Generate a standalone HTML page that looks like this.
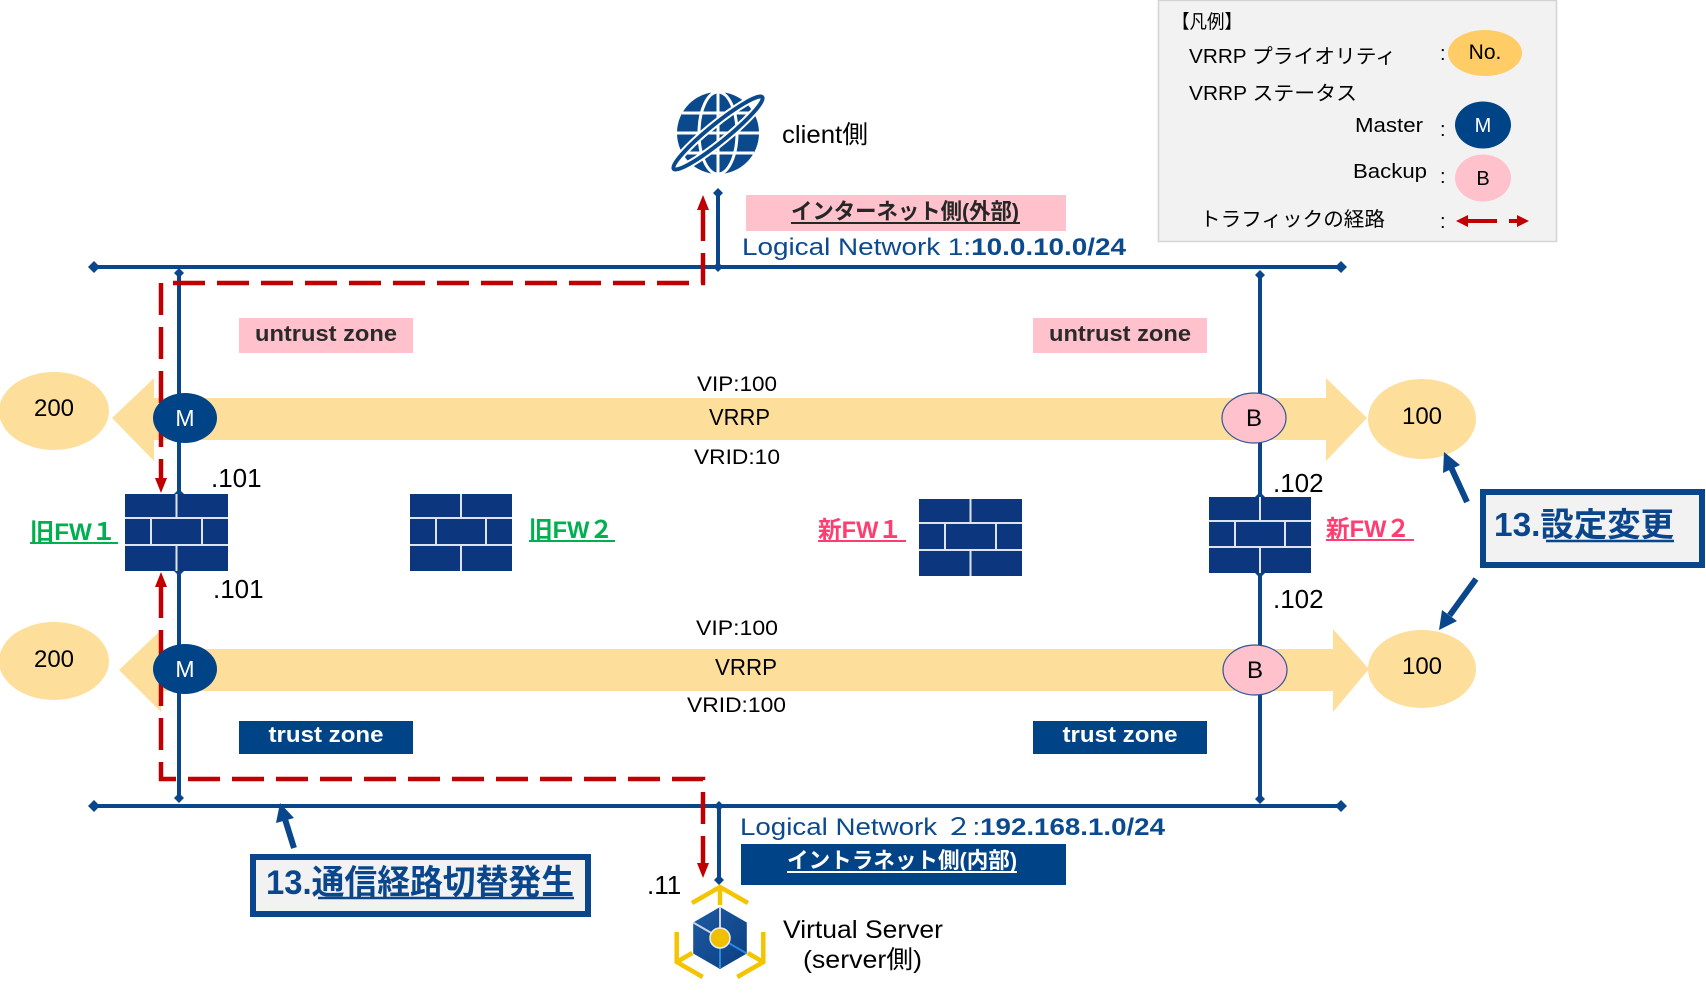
<!DOCTYPE html>
<html><head><meta charset="utf-8"><style>
html,body{margin:0;padding:0;background:#fff;}
svg{display:block;}
text{font-family:"Liberation Sans","Noto Sans CJK JP",sans-serif;}
</style></head><body>
<svg width="1706" height="994" viewBox="0 0 1706 994" xmlns="http://www.w3.org/2000/svg">
<rect x="0" y="0" width="1706" height="994" fill="#fff"/>

<!-- Legend -->
<rect x="1158.5" y="0.5" width="398" height="241" fill="#f2f2f2" stroke="#d4d4d4" stroke-width="1.5"/>
<text x="1172" y="28" font-size="19" textLength="70" lengthAdjust="spacingAndGlyphs">【凡例】</text>
<text x="1189" y="63" font-size="20" textLength="207" lengthAdjust="spacingAndGlyphs">VRRP プライオリティ</text>
<text x="1440" y="60" font-size="20">:</text>
<ellipse cx="1485" cy="53" rx="37" ry="23" fill="#ffcc66"/>
<text x="1485" y="59" font-size="21" text-anchor="middle">No.</text>
<text x="1189" y="100" font-size="20" textLength="168" lengthAdjust="spacingAndGlyphs">VRRP ステータス</text>
<text x="1355" y="132" font-size="20" textLength="68" lengthAdjust="spacingAndGlyphs">Master</text>
<text x="1440" y="136" font-size="20">:</text>
<ellipse cx="1483" cy="125" rx="28" ry="23.5" fill="#004386"/>
<text x="1483" y="132" font-size="20" text-anchor="middle" fill="#fff">M</text>
<text x="1353" y="178" font-size="20" textLength="74" lengthAdjust="spacingAndGlyphs">Backup</text>
<text x="1440" y="183" font-size="20">:</text>
<ellipse cx="1483" cy="178" rx="28" ry="23.5" fill="#ffc1cc"/>
<text x="1483" y="185" font-size="20" text-anchor="middle">B</text>
<text x="1200" y="226" font-size="20" textLength="185" lengthAdjust="spacingAndGlyphs">トラフィックの経路</text>
<text x="1440" y="228" font-size="20">:</text>
<line x1="1466" y1="221" x2="1497" y2="221" stroke="#c00000" stroke-width="4"/>
<polygon points="1456,221,1468,215,1468,227" fill="#c00000"/>
<line x1="1509" y1="221" x2="1518" y2="221" stroke="#c00000" stroke-width="4"/>
<polygon points="1529,221,1517,215,1517,227" fill="#c00000"/>

<!-- VRRP bands -->
<polygon points="112,418 154,378 154,398 1326,398 1326,378 1367,418 1326,461 1326,440 154,440 154,461" fill="#fddf9b"/>
<polygon points="119,670 161,630 161,649 1333,649 1333,629 1369,669 1333,712 1333,691 161,691 161,712" fill="#fddf9b"/>

<!-- priority ellipses -->
<ellipse cx="54" cy="411" rx="55" ry="39" fill="#fddf9b"/>
<ellipse cx="54" cy="661" rx="55" ry="39" fill="#fddf9b"/>
<ellipse cx="1422" cy="419" rx="54" ry="40" fill="#fddf9b"/>
<ellipse cx="1422" cy="669" rx="54" ry="39" fill="#fddf9b"/>
<text x="54" y="416" font-size="24" text-anchor="middle">200</text>
<text x="54" y="667" font-size="24" text-anchor="middle">200</text>
<text x="1422" y="424" font-size="24" text-anchor="middle">100</text>
<text x="1422" y="674" font-size="24" text-anchor="middle">100</text>

<!-- blue network lines -->
<g stroke="#0a468c" stroke-width="4" fill="none">
<line x1="94" y1="267" x2="1341" y2="267"/>
<line x1="94" y1="806" x2="1341" y2="806"/>
<line x1="179" y1="273" x2="179" y2="494"/>
<line x1="179" y1="571" x2="179" y2="798"/>
<line x1="1260" y1="275" x2="1260" y2="497"/>
<line x1="1260" y1="573" x2="1260" y2="799"/>
<line x1="718" y1="193" x2="718" y2="267"/>
<line x1="719" y1="806" x2="719" y2="880"/>
</g>
<g fill="#0a468c">
<polygon points="94,261 100,267 94,273 88,267"/>
<polygon points="1341,261 1347,267 1341,273 1335,267"/>
<polygon points="179,268 184,273 179,278 174,273"/>
<polygon points="1260,270 1265,275 1260,280 1255,275"/>
<polygon points="718,188 723,193 718,198 713,193"/>
<polygon points="718,262 723,267 718,272 713,267"/>
<polygon points="179,489 184,494 179,499 174,494"/>
<polygon points="179,566 184,571 179,576 174,571"/>
<polygon points="1260,492 1265,497 1260,502 1255,497"/>
<polygon points="1260,568 1265,573 1260,578 1255,573"/>
<polygon points="179,793 184,798 179,803 174,798"/>
<polygon points="1260,794 1265,799 1260,804 1255,799"/>
<polygon points="94,800 100,806 94,812 88,806"/>
<polygon points="1341,800 1347,806 1341,812 1335,806"/>
<polygon points="719,801 724,806 719,811 714,806"/>
<polygon points="719,875 724,880 719,885 714,880"/>
</g>

<!-- red traffic paths -->
<g stroke="#c00000" stroke-width="4.5" fill="none" stroke-dasharray="32 12">
<path d="M703,209 L703,283 L161,283 L161,478"/>
<path d="M161,586 L161,779 L703,779 L703,863"/>
</g>
<g fill="#c00000">
<polygon points="703,195 697,210 709,210"/>
<polygon points="161,493 155,478 167,478"/>
<polygon points="161,572 155,587 167,587"/>
<polygon points="703,878 697,863 709,863"/>
</g>

<!-- firewalls -->
<g>
<rect x="125" y="494" width="103" height="77" fill="#0c367e"/>
<g stroke="#dde4ee" stroke-width="2">
<line x1="125" y1="518" x2="228" y2="518"/><line x1="125" y1="545" x2="228" y2="545"/>
<line x1="176.5" y1="494" x2="176.5" y2="518"/><line x1="151" y1="518" x2="151" y2="545"/><line x1="202" y1="518" x2="202" y2="545"/><line x1="176.5" y1="545" x2="176.5" y2="571"/>
</g>
<rect x="410" y="494" width="102" height="77" fill="#0c367e"/>
<g stroke="#dde4ee" stroke-width="2">
<line x1="410" y1="518" x2="512" y2="518"/><line x1="410" y1="545" x2="512" y2="545"/>
<line x1="461" y1="494" x2="461" y2="518"/><line x1="436" y1="518" x2="436" y2="545"/><line x1="486" y1="518" x2="486" y2="545"/><line x1="461" y1="545" x2="461" y2="571"/>
</g>
<rect x="919" y="499" width="103" height="77" fill="#0c367e"/>
<g stroke="#dde4ee" stroke-width="2">
<line x1="919" y1="523" x2="1022" y2="523"/><line x1="919" y1="550" x2="1022" y2="550"/>
<line x1="970.5" y1="499" x2="970.5" y2="523"/><line x1="945" y1="523" x2="945" y2="550"/><line x1="996" y1="523" x2="996" y2="550"/><line x1="970.5" y1="550" x2="970.5" y2="576"/>
</g>
<rect x="1209" y="497" width="102" height="76" fill="#0c367e"/>
<g stroke="#dde4ee" stroke-width="2">
<line x1="1209" y1="521" x2="1311" y2="521"/><line x1="1209" y1="547" x2="1311" y2="547"/>
<line x1="1260" y1="497" x2="1260" y2="521"/><line x1="1235" y1="521" x2="1235" y2="547"/><line x1="1285" y1="521" x2="1285" y2="547"/><line x1="1260" y1="547" x2="1260" y2="573"/>
</g>
</g>

<!-- M / B status -->
<ellipse cx="185" cy="418" rx="32" ry="25" fill="#004386"/>
<text x="185" y="426" font-size="23" text-anchor="middle" fill="#fff">M</text>
<ellipse cx="185" cy="669" rx="32" ry="25" fill="#004386"/>
<text x="185" y="677" font-size="23" text-anchor="middle" fill="#fff">M</text>
<ellipse cx="1254" cy="418" rx="32" ry="25" fill="#ffc1cc" stroke="#2f5597" stroke-width="1.2"/>
<text x="1254" y="426" font-size="24" text-anchor="middle">B</text>
<ellipse cx="1255" cy="670" rx="32" ry="25" fill="#ffc1cc" stroke="#2f5597" stroke-width="1.2"/>
<text x="1255" y="678" font-size="24" text-anchor="middle">B</text>

<!-- VRRP labels -->
<text x="697" y="391" font-size="21" textLength="80" lengthAdjust="spacingAndGlyphs">VIP:100</text>
<text x="709" y="425" font-size="23" textLength="61" lengthAdjust="spacingAndGlyphs">VRRP</text>
<text x="694" y="464" font-size="21" textLength="86" lengthAdjust="spacingAndGlyphs">VRID:10</text>
<text x="696" y="635" font-size="21" textLength="82" lengthAdjust="spacingAndGlyphs">VIP:100</text>
<text x="715" y="675" font-size="23" textLength="62" lengthAdjust="spacingAndGlyphs">VRRP</text>
<text x="687" y="712" font-size="21" textLength="99" lengthAdjust="spacingAndGlyphs">VRID:100</text>

<!-- zone boxes -->
<rect x="239" y="318" width="174" height="35" fill="#ffc1cc"/>
<text x="326" y="341" font-size="22" font-weight="bold" fill="#2a2a2a" text-anchor="middle" textLength="142" lengthAdjust="spacingAndGlyphs">untrust zone</text>
<rect x="1033" y="318" width="174" height="35" fill="#ffc1cc"/>
<text x="1120" y="341" font-size="22" font-weight="bold" fill="#2a2a2a" text-anchor="middle" textLength="142" lengthAdjust="spacingAndGlyphs">untrust zone</text>
<rect x="239" y="721" width="174" height="33" fill="#004386"/>
<text x="326" y="742" font-size="22" font-weight="bold" fill="#fff" text-anchor="middle" textLength="115" lengthAdjust="spacingAndGlyphs">trust zone</text>
<rect x="1033" y="721" width="174" height="33" fill="#004386"/>
<text x="1120" y="742" font-size="22" font-weight="bold" fill="#fff" text-anchor="middle" textLength="115" lengthAdjust="spacingAndGlyphs">trust zone</text>

<!-- FW names -->
<text x="30" y="540" font-size="24" font-weight="bold" fill="#00b050" textLength="86" lengthAdjust="spacingAndGlyphs">旧FW１</text>
<line x1="30" y1="543" x2="118" y2="543" stroke="#00b050" stroke-width="2"/>
<text x="529" y="538" font-size="24" font-weight="bold" fill="#00b050" textLength="84" lengthAdjust="spacingAndGlyphs">旧FW２</text>
<line x1="529" y1="541" x2="615" y2="541" stroke="#00b050" stroke-width="2"/>
<text x="818" y="538" font-size="24" font-weight="bold" fill="#ff3d70" textLength="84" lengthAdjust="spacingAndGlyphs">新FW１</text>
<line x1="818" y1="541" x2="906" y2="541" stroke="#ff3d70" stroke-width="2"/>
<text x="1326" y="537" font-size="24" font-weight="bold" fill="#ff3d70" textLength="84" lengthAdjust="spacingAndGlyphs">新FW２</text>
<line x1="1326" y1="540" x2="1414" y2="540" stroke="#ff3d70" stroke-width="2"/>

<!-- IP labels -->
<text x="211" y="487" font-size="26">.101</text>
<text x="213" y="598" font-size="26">.101</text>
<text x="1273" y="492" font-size="26">.102</text>
<text x="1273" y="608" font-size="26">.102</text>
<text x="647" y="894" font-size="26">.11</text>

<!-- network labels -->
<rect x="746" y="195" width="320" height="36" fill="#ffc1cc"/>
<text x="905" y="219" font-size="22" font-weight="bold" fill="#262626" text-anchor="middle" textLength="228" lengthAdjust="spacingAndGlyphs">インターネット側(外部)</text>
<line x1="791" y1="223" x2="1020" y2="223" stroke="#262626" stroke-width="2"/>
<text x="742" y="255" font-size="24" fill="#0b4a8f" textLength="384" lengthAdjust="spacingAndGlyphs">Logical Network 1:<tspan font-weight="bold">10.0.10.0/24</tspan></text>

<text x="740" y="835" font-size="24" fill="#0b4a8f" textLength="425" lengthAdjust="spacingAndGlyphs">Logical Network ２:<tspan font-weight="bold">192.168.1.0/24</tspan></text>
<rect x="741" y="844" width="325" height="41" fill="#004386"/>
<text x="902" y="868" font-size="22" font-weight="bold" fill="#fff" text-anchor="middle" textLength="230" lengthAdjust="spacingAndGlyphs">イントラネット側(内部)</text>
<line x1="787" y1="872" x2="1017" y2="872" stroke="#fff" stroke-width="2"/>

<text x="782" y="143" font-size="25" textLength="86" lengthAdjust="spacingAndGlyphs">client側</text>
<text x="783" y="938" font-size="25" textLength="160" lengthAdjust="spacingAndGlyphs">Virtual Server</text>
<text x="803" y="968" font-size="25" textLength="119" lengthAdjust="spacingAndGlyphs">(server側)</text>

<!-- callout boxes -->
<rect x="1483" y="492" width="219" height="73" fill="#f2f2f2" stroke="#0a468c" stroke-width="6"/>
<text x="1494" y="536" font-size="33" font-weight="bold" fill="#0a468c" textLength="180" lengthAdjust="spacingAndGlyphs">13.設定変更</text>
<line x1="1546" y1="541" x2="1674" y2="541" stroke="#0a468c" stroke-width="2.5"/>
<rect x="253" y="857" width="335" height="57" fill="#f2f2f2" stroke="#0a468c" stroke-width="6"/>
<text x="266" y="894" font-size="34" font-weight="bold" fill="#0a468c" textLength="308" lengthAdjust="spacingAndGlyphs">13.通信経路切替発生</text>
<line x1="318" y1="898" x2="574" y2="898" stroke="#0a468c" stroke-width="2.5"/>

<!-- callout arrows -->
<g stroke="#0a468c" stroke-width="6" stroke-linecap="butt">
<line x1="1467" y1="502" x2="1451.5" y2="468.3"/>
<line x1="1476" y1="579" x2="1449.6" y2="615.4"/>
<line x1="294" y1="848" x2="285.3" y2="820.2"/>
</g>
<g fill="#0a468c">
<polygon points="1444,452 1460,465 1443,473"/>
<polygon points="1439,630 1457,621 1442,610"/>
<polygon points="280,803 294,818 276,823"/>
</g>

<!-- globe -->
<g>
<circle cx="718" cy="133" r="41" fill="#0a4a8c"/>
<g stroke="#fff" stroke-width="3" fill="none">
<line x1="718" y1="92" x2="718" y2="174"/>
<ellipse cx="718" cy="133" rx="19" ry="41"/>
<line x1="677" y1="133" x2="759" y2="133"/>
<line x1="682" y1="113" x2="754" y2="113"/>
<line x1="682" y1="153" x2="754" y2="153"/>
</g>
<ellipse cx="718" cy="133" rx="57" ry="9" transform="rotate(-39 718 133)" fill="none" stroke="#fff" stroke-width="8"/>
<ellipse cx="718" cy="133" rx="57" ry="9" transform="rotate(-39 718 133)" fill="none" stroke="#0a4a8c" stroke-width="4"/>
</g>

<!-- server icon -->
<g>
<g stroke="#f5c400" stroke-width="4.5" fill="none" stroke-linejoin="miter">
<polyline points="692,903 720,887 748,903"/>
<line x1="720" y1="887" x2="720" y2="905"/>
<polyline points="676.7,932 676.7,962 702.7,977"/>
<line x1="676.7" y1="962" x2="692.3" y2="953"/>
<polyline points="763.3,932 763.3,962 737.3,977"/>
<line x1="763.3" y1="962" x2="747.7" y2="953"/>
</g>
<defs><linearGradient id="hx" x1="0" y1="0" x2="1" y2="1"><stop offset="0" stop-color="#1f5aa3"/><stop offset="1" stop-color="#0a3f80"/></linearGradient></defs>
<polygon points="720,907 746.8,922.5 746.8,953.5 720,969 693.2,953.5 693.2,922.5" fill="url(#hx)"/>
<g stroke-width="2">
<line x1="720" y1="938" x2="720" y2="907" stroke="#c8d4e6"/>
<line x1="720" y1="938" x2="693.2" y2="922.5" stroke="#c8d4e6"/>
<line x1="720" y1="938" x2="720" y2="969" stroke="#2f86e0"/>
<line x1="720" y1="938" x2="746.8" y2="953.5" stroke="#2f86e0"/>
</g>
<circle cx="720" cy="938" r="10" fill="#f0c000" stroke="#e8eef6" stroke-width="1.5"/>
</g>
</svg>
</body></html>
